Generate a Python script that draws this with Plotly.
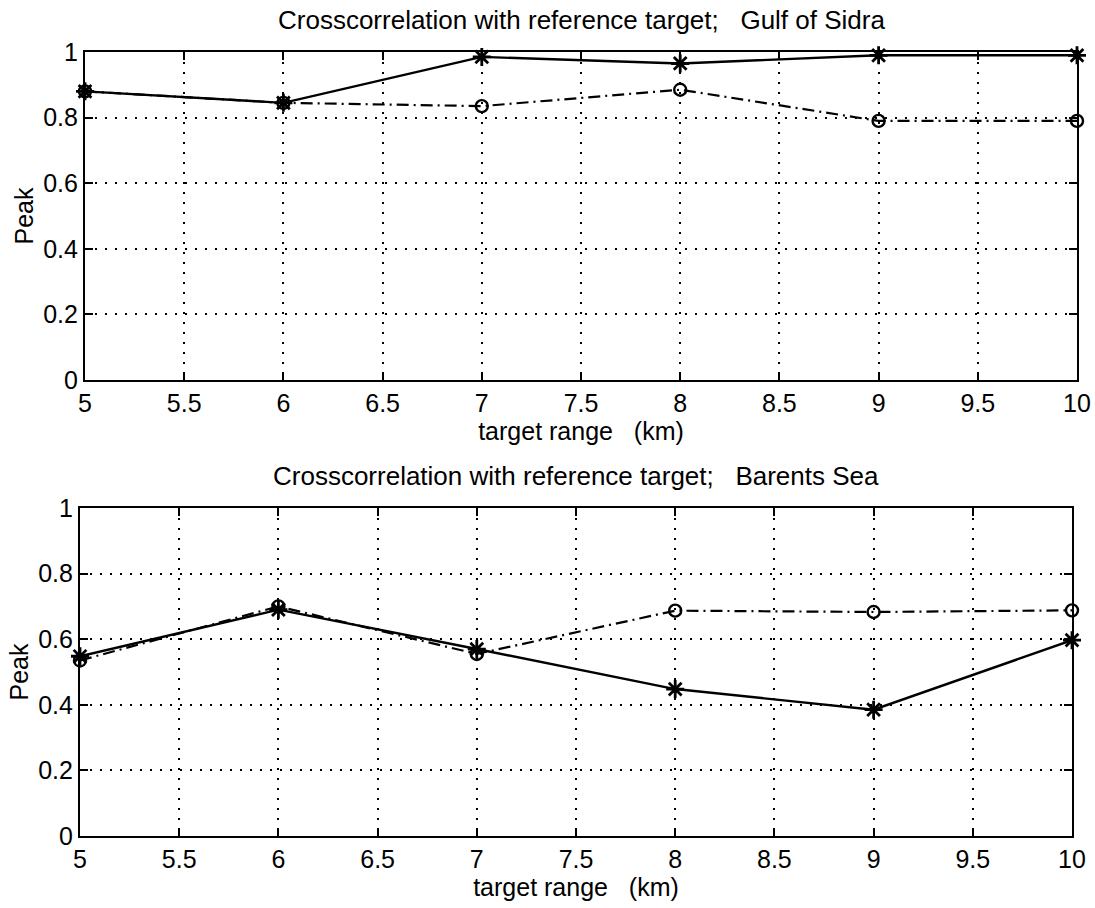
import plotly.graph_objects as go

# target range (km)
ranges = [5, 6, 7, 8, 9, 10]

# Gulf of Sidra: peak crosscorrelation
sidra_star = [0.88, 0.845, 0.985, 0.965, 0.99, 0.99]
sidra_circle = [0.88, 0.845, 0.835, 0.885, 0.79, 0.79]

# Barents Sea: peak crosscorrelation
barents_star = [0.548, 0.69, 0.57, 0.448, 0.385, 0.597]
barents_circle = [0.535, 0.70, 0.555, 0.687, 0.683, 0.688]

x_ticks = [5, 5.5, 6, 6.5, 7, 7.5, 8, 8.5, 9, 9.5, 10]
x_ticklabels = ["5", "5.5", "6", "6.5", "7", "7.5", "8", "8.5", "9", "9.5", "10"]
y_ticks = [0, 0.2, 0.4, 0.6, 0.8, 1]
y_ticklabels = ["0", "0.2", "0.4", "0.6", "0.8", "1"]

titles = ["Crosscorrelation with reference target;   Gulf of Sidra",
          "Crosscorrelation with reference target;   Barents Sea"]

W, H = 1095, 908
FONT = "Liberation Sans, Arial, Helvetica, sans-serif"

fig = go.Figure()


def add_pair(star, circle, xa, ya):
    fig.add_trace(go.Scatter(
        x=ranges, y=circle, xaxis=xa, yaxis=ya, mode="lines+markers",
        line=dict(color="black", width=2.2, dash="12px,5px,2px,5px"),
        marker=dict(symbol="circle-open", size=12, color="black",
                    line=dict(width=2.4, color="black")),
        showlegend=False, cliponaxis=False))
    fig.add_trace(go.Scatter(
        x=ranges, y=star, xaxis=xa, yaxis=ya, mode="lines+markers",
        line=dict(color="black", width=2.4),
        marker=dict(symbol="asterisk-open", size=15, color="black",
                    line=dict(width=2.8, color="black")),
        showlegend=False, cliponaxis=False))


add_pair(sidra_star, sidra_circle, "x", "y")
add_pair(barents_star, barents_circle, "x2", "y2")

# panel boxes in pixels: (left, right, top, bottom)
panels = [(85, 1077, 52, 380), (80, 1072, 508, 836)]


def xaxis_cfg(left, right, anchor):
    return dict(
        domain=[left / W, right / W], anchor=anchor, automargin=False,
        range=[5, 10], tickvals=x_ticks, ticktext=x_ticklabels,
        ticks="inside", ticklen=8, tickwidth=2, tickcolor="black",
        showline=True, linecolor="black", linewidth=2.2, mirror="ticks",
        showgrid=True, gridcolor="black", gridwidth=1.6, griddash="2px,8px",
        zeroline=False, tickfont=dict(family=FONT, size=25, color="black"),
        title=dict(text="target range   (km)", standoff=0,
                   font=dict(family=FONT, size=25, color="black")),
    )


def yaxis_cfg(top, bottom, anchor):
    return dict(
        domain=[1 - bottom / H, 1 - top / H], anchor=anchor, automargin=False,
        range=[0, 1], tickvals=y_ticks, ticktext=y_ticklabels,
        ticks="inside", ticklen=8, tickwidth=2, tickcolor="black",
        showline=True, linecolor="black", linewidth=2.2, mirror="ticks",
        showgrid=True, gridcolor="black", gridwidth=1.6, griddash="2px,8px",
        zeroline=False, tickfont=dict(family=FONT, size=25, color="black"),
        title=dict(text="Peak", standoff=2,
                   font=dict(family=FONT, size=25, color="black")),
    )


(l1, r1, t1, b1), (l2, r2, t2, b2) = panels
layout = dict(
    width=W, height=H,
    margin=dict(l=0, r=0, t=0, b=0, autoexpand=False),
    paper_bgcolor="white", plot_bgcolor="white",
    xaxis=xaxis_cfg(l1, r1, "y"), yaxis=yaxis_cfg(t1, b1, "x"),
    xaxis2=xaxis_cfg(l2, r2, "y2"), yaxis2=yaxis_cfg(t2, b2, "x2"),
)
fig.update_layout(**layout)

for (left, right, top, bottom), text in zip(panels, titles):
    fig.add_annotation(
        text=text, xref="paper", yref="paper",
        x=(left + right) / 2 / W, y=1 - (top - 32) / H,
        xanchor="center", yanchor="middle", showarrow=False,
        font=dict(family=FONT, size=26, color="black"))

fig.write_html("out.html")
